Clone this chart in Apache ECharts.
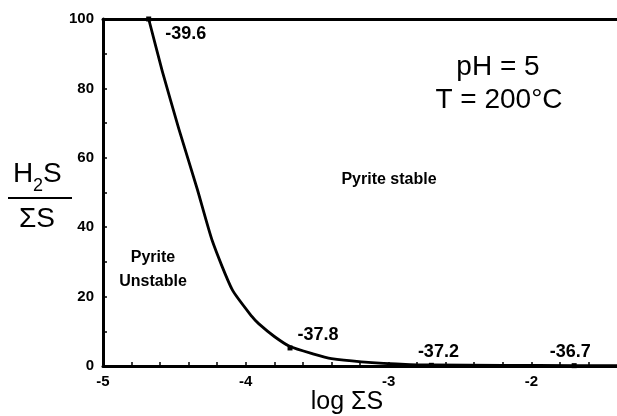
<!DOCTYPE html>
<html>
<head>
<meta charset="utf-8">
<script src="https://cdn.jsdelivr.net/npm/echarts@6/dist/echarts.min.js"></script>
<style>
  html, body { margin: 0; padding: 0; background: #fff; }
  #chart { width: 617px; height: 416px; }
</style>
</head>
<body>
<div id="chart"></div>
<script>
// Courbe H2S/ΣS en fonction de log ΣS
const curveX = [-4.68, -4.585, -4.47, -4.34, -4.234, -4.095, -3.956, -3.91, -3.80, -3.69, -3.53, -3.40, -3.19, -2.85, -2.7, -2.2, -1.70, -1.4];
const curveY = [100, 85, 68.5, 51, 36, 22, 14.2, 12.2, 8.5, 5.6, 3.5, 2.1, 1.2, 0.4, 0.3, 0.2, 0.1, 0.1];

// Points marqués avec leur valeur
const markX = [-4.68, -3.69, -2.7, -1.70];
const markY = [100, 5.2, 0.2, 0.1];
const markLabels = ['-39.6', '-37.8', '-37.2', '-36.7'];
const markOffsets = [[37, 15], [28, -13], [7, -13], [-4, -14]];

const FONT = 'Liberation Sans, Arial, sans-serif';

const chart = echarts.init(document.getElementById('chart'));

const curveData = curveX.map((x, i) => [x, curveY[i]]);
const markData = markX.map((x, i) => ({
  value: [x, markY[i]],
  label: { formatter: markLabels[i], offset: markOffsets[i] }
}));

function intLabel(v) {
  const r = Math.round(v);
  return Math.abs(v - r) < 1e-6 ? String(r) : '';
}

const option = {
  backgroundColor: '#fff',
  animation: false,
  grid: { left: 103, right: -4, top: 19, bottom: 50 },
  xAxis: [{
    type: 'value',
    min: -5,
    max: -1.4,
    interval: 0.2,
    axisLine: { lineStyle: { color: '#000', width: 3 } },
    axisTick: { inside: true, length: 4, lineStyle: { color: '#000', width: 1.5 } },
    axisLabel: {
      formatter: intLabel, color: '#000', fontSize: 15, fontWeight: 'bold', fontFamily: FONT, margin: 8,
      showMaxLabel: false
    },
    splitLine: { show: false }
  }, {
    type: 'value',
    position: 'top',
    min: -5,
    max: -1.4,
    axisLine: { show: true, lineStyle: { color: '#000', width: 3 } },
    axisTick: { show: false },
    axisLabel: { show: false },
    splitLine: { show: false }
  }],
  yAxis: {
    type: 'value',
    min: 0,
    max: 100,
    interval: 10,
    axisLine: { show: true, lineStyle: { color: '#000', width: 3 } },
    axisTick: { inside: true, length: 4, lineStyle: { color: '#000', width: 1.5 } },
    axisLabel: {
      formatter: v => (v % 20 === 0 ? String(v) : ''),
      color: '#000', fontSize: 15, fontWeight: 'bold', fontFamily: FONT, margin: 9
    },
    splitLine: { show: false }
  },
  series: [{
    type: 'line',
    data: curveData,
    showSymbol: false,
    smooth: 0.2,
    lineStyle: { color: '#000', width: 2.8, join: 'round' },
    z: 3
  }, {
    type: 'scatter',
    data: markData,
    symbol: 'rect',
    symbolSize: 5,
    itemStyle: { color: '#000', opacity: 1 },
    label: {
      show: true,
      position: 'inside',
      color: '#000',
      textBorderWidth: 0,
      fontSize: 18,
      fontWeight: 'bold',
      fontFamily: FONT
    },
    z: 4
  }],
  graphic: [
    { type: 'text', x: 498, y: 67, style: { text: 'pH = 5', font: '28px ' + FONT, fill: '#000', textAlign: 'center', textVerticalAlign: 'middle' } },
    { type: 'text', x: 499, y: 100, style: { text: 'T = 200°C', font: '28px ' + FONT, fill: '#000', textAlign: 'center', textVerticalAlign: 'middle' } },
    { type: 'text', x: 389, y: 180, style: { text: 'Pyrite stable', font: 'bold 16px ' + FONT, fill: '#000', textAlign: 'center', textVerticalAlign: 'middle' } },
    { type: 'text', x: 153, y: 258, style: { text: 'Pyrite', font: 'bold 16px ' + FONT, fill: '#000', textAlign: 'center', textVerticalAlign: 'middle' } },
    { type: 'text', x: 153, y: 282, style: { text: 'Unstable', font: 'bold 16px ' + FONT, fill: '#000', textAlign: 'center', textVerticalAlign: 'middle' } },
    // titre de l'axe Y en fraction H2S / ΣS
    { type: 'text', x: 13, y: 174, style: { text: 'H', font: '28px ' + FONT, fill: '#000', textAlign: 'left', textVerticalAlign: 'middle' } },
    { type: 'text', x: 33, y: 186, style: { text: '2', font: '18px ' + FONT, fill: '#000', textAlign: 'left', textVerticalAlign: 'middle' } },
    { type: 'text', x: 43, y: 174, style: { text: 'S', font: '28px ' + FONT, fill: '#000', textAlign: 'left', textVerticalAlign: 'middle' } },
    { type: 'line', shape: { x1: 8, y1: 198, x2: 72, y2: 198 }, style: { stroke: '#000', lineWidth: 2 } },
    { type: 'text', x: 37, y: 219, style: { text: 'ΣS', font: '28px ' + FONT, fill: '#000', textAlign: 'center', textVerticalAlign: 'middle' } },
    // titre de l'axe X
    { type: 'text', x: 347, y: 402, style: { text: 'log ΣS', font: '25px ' + FONT, fill: '#000', textAlign: 'center', textVerticalAlign: 'middle' } }
  ]
};

chart.setOption(option);
</script>
</body>
</html>
